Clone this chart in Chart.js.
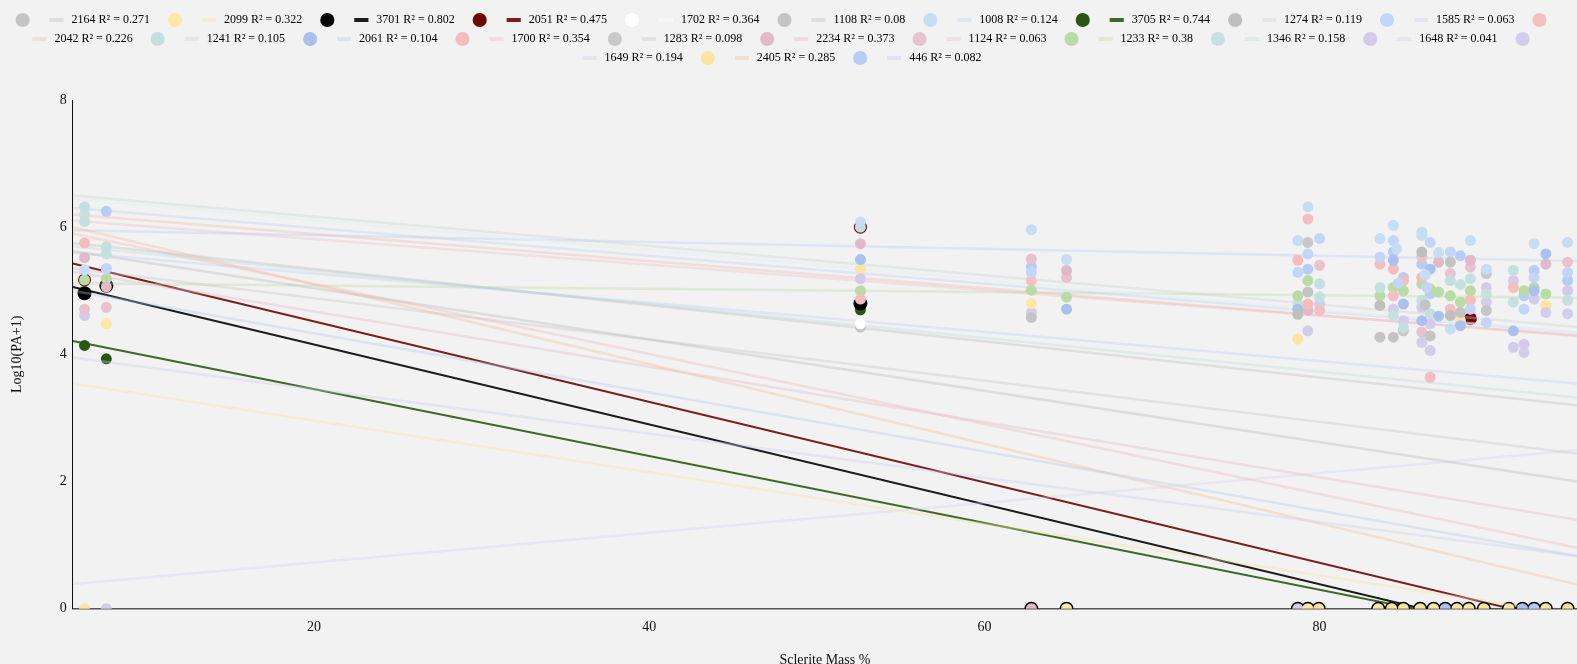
<!DOCTYPE html>
<html>
<head>
<meta charset="UTF-8">
<title>Sclerite Mass % vs Log10(PA+1)</title>
<script src="https://cdn.jsdelivr.net/npm/chart.js"></script>
<style>
  html, body { margin: 0; padding: 0; background: #f2f2f2; overflow: hidden; }
  #wrap { position: relative; width: 1577px; height: 664px; }
  #wrap canvas { display: block; }
</style>
</head>
<body>
<div id="wrap"><canvas id="chart"></canvas></div>
<script>
// groups, in legend order
const ids = ['2164','2099','3701','2051','1702','1108','1008','3705','1274','1585','2042','1241','2061','1700','1283','2234','1124','1233','1346','1648','1649','2405','446'];
const r2 = ['0.271','0.322','0.802','0.475','0.364','0.08','0.124','0.744','0.119','0.063','0.226','0.105','0.104','0.354','0.098','0.373','0.063','0.38','0.158','0.041','0.194','0.285','0.082'];

// fitted lines: value at the left and right end of the x range
const lineX = [5.6, 95.36];
const lineFrom = [5.62, 3.54, 5.06, 5.43, 6.45, 5.75, 6.3, 4.21, 6.5, 5.6, 6.2, 6.45, 5.0, 5.9, 5.35, 5.3, 6.1, 5.12, 5.7, 0.39, 3.95, 6.0, 5.95];
const lineTo = [2.0, -0.1, -0.58, -0.25, 4.34, 3.2, 4.34, -0.51, 4.43, 3.54, 4.29, 4.34, 0.83, 0.96, 2.44, 1.4, 4.3, 4.89, 3.32, 2.49, 0.83, 0.38, 5.47];

// observations [sclerite mass %, log10(PA+1)]
const p2164 = [[62.8,4.58],[79.3,4.98],[83.6,4.27],[87.8,5.45],[89.95,4.69],[86.3,4.78]];
const p2099 = [[7.6,4.48],[62.8,4.8],[64.9,0],[79.3,0],[83.5,0],[85.0,0],[86.8,0],[88.9,0],[91.3,0],[93.5,0]];
const p3701 = [[6.3,4.96],[7.6,5.08],[52.6,4.8],[62.8,0],[64.9,0],[78.7,0],[79.3,0],[79.95,0],[83.5,0],[84.3,0],[85.0,0],[86.0,0],[86.8,0],[87.5,0],[88.2,0],[88.9,0],[89.8,0],[91.3,0],[92.1,0],[92.8,0],[93.5,0],[94.8,0]];
const p2051 = [[6.3,5.17],[52.6,6.0],[89.0,4.56],[86.0,0],[86.8,0],[91.3,0],[93.5,0],[94.8,0]];
const p1702 = [[52.6,4.48]];
const p1108 = [[52.6,4.43],[84.4,4.27],[86.6,4.29],[88.4,4.66]];
const p1008 = [[6.3,5.33],[52.6,6.08],[62.8,5.96],[64.9,5.49],[78.7,5.79],[79.3,6.32],[83.6,5.82],[84.4,6.03],[84.6,5.66],[86.1,5.87],[86.3,5.25],[87.1,5.6],[87.8,4.4],[89.0,5.79],[89.95,5.34],[92.8,5.74],[94.8,5.76]];
const p3705 = [[6.3,4.14],[7.6,3.93],[52.6,4.7],[83.5,0],[85.0,0],[86.0,0],[88.2,0]];
const p1274 = [[78.7,4.63],[83.6,4.77],[86.1,5.61],[87.8,4.61]];
const p1585 = [[7.6,5.35],[62.8,5.29],[78.7,5.29],[79.3,5.58],[80.0,5.82],[83.6,5.53],[84.4,5.79],[84.7,5.12],[86.6,5.76],[86.4,5.05],[87.8,5.61],[89.0,4.71],[89.95,4.5],[92.2,4.71],[92.8,5.21],[94.8,5.29]];
const p2042 = [[62.8,5.16],[79.3,6.13],[80.0,4.69],[83.6,5.42],[84.4,4.92],[86.1,5.53],[87.8,4.71],[91.56,5.05]];
const p1241 = [[6.3,6.32],[6.3,6.09],[7.6,5.69],[52.6,6.0],[80.0,5.11],[83.6,5.05],[85.0,4.42],[86.1,4.85],[87.8,5.16],[89.0,5.19],[91.56,5.32],[94.8,4.85]];
const p2061 = [[52.6,5.49],[64.9,4.71],[78.7,4.71],[84.4,5.48],[85.0,4.79],[86.1,4.53],[86.6,5.34],[87.1,4.6],[88.4,4.45],[91.56,4.37],[92.8,5.0],[93.5,5.58],[87.5,0],[92.1,0]];
const p1700 = [[6.3,5.75],[52.6,4.87],[78.7,5.48],[79.3,4.79],[84.4,5.34],[85.0,5.16],[86.1,5.21],[86.6,3.64],[89.0,4.85]];
const p1283 = [[79.3,5.76],[85.0,4.37],[89.95,5.27]];
const p2234 = [[6.3,5.52],[7.6,5.06],[52.6,5.74],[64.9,5.32],[79.3,4.69],[87.1,5.45],[89.0,5.48],[93.5,5.42],[62.8,0]];
const p1124 = [[6.3,4.71],[7.6,4.74],[62.8,5.5],[64.9,5.21],[80.0,5.4],[86.1,4.35],[87.8,5.27],[89.0,5.37],[94.8,5.45]];
const p1233 = [[6.3,5.17],[7.6,5.19],[52.6,5.0],[62.8,5.01],[64.9,4.9],[78.7,4.92],[79.3,5.16],[83.6,4.92],[84.4,5.05],[85.0,5.0],[86.1,5.11],[86.6,5.03],[87.1,4.98],[87.8,4.92],[88.4,4.82],[89.0,5.0],[92.2,5.0],[92.8,5.05],[93.5,4.95]];
const p1346 = [[6.3,6.2],[7.6,5.58],[78.7,4.79],[80.0,4.9],[84.4,4.61],[86.1,5.92],[86.6,4.64],[88.4,5.1],[89.95,4.95],[91.56,4.82]];
const p1648 = [[6.3,4.61],[52.6,5.19],[80.0,4.79],[84.4,4.71],[86.1,4.74],[86.6,4.48],[89.95,5.05],[91.56,5.16],[92.2,4.16],[92.8,4.87],[94.8,5.0],[78.7,0]];
const p1649 = [[7.6,0],[62.8,4.66],[79.3,4.37],[85.0,4.53],[86.1,4.19],[86.6,4.06],[89.95,4.82],[91.56,4.11],[92.2,4.03],[93.5,4.66],[94.8,4.64]];
const p2405 = [[6.3,0],[52.6,5.34],[78.7,4.24],[88.4,4.53],[93.5,4.77],[79.95,0],[84.3,0],[86.0,0],[88.2,0],[89.8,0],[94.8,0]];
const p446 = [[7.6,6.25],[62.8,5.38],[79.3,5.34],[84.4,5.61],[85.0,5.21],[86.1,5.42],[86.6,4.95],[88.4,5.55],[92.2,4.92],[92.8,5.32],[94.8,5.16],[92.8,0]];

const points = [p2164,p2099,p3701,p2051,p1702,p1108,p1008,p3705,p1274,p1585,p2042,p1241,p2061,p1700,p1283,p2234,p1124,p1233,p1346,p1648,p1649,p2405,p446];

// styling
const dotColor = ['#c4c4c4','#fce7a6','#000000','#6e0707','#ffffff','#c4c4c4','#c6ddf3','#2a5514','#bfbfbf','#c3d5f8','#f4bfbf','#c4dfdf','#a9c1ec','#f4bcbc','#c8c8c8','#e2b9c9','#e8c2ce','#b9dba5','#c6e0df','#d4cbea','#d2cdea','#fde3a0','#b6cdf6'];
const lineColor = ['#b8b8b8','#f8e39a','#1b1b1b','#7a1d1d','#ffffff','#bdbdbd','#b9d3ef','#3c6a27','#c8d2d2','#bcd0f0','#f2b5b5','#bcd9d9','#b3c8ec','#f1b3b3','#c4c4c4','#e2b6c6','#eebcc6','#b9d8a4','#c0dcdc','#cfd3ef','#c8d0ee','#f4b990','#b7cdf4'];
const strong = [2, 3, 7];
const dotRadius = {2: 7, 3: 6.5, 7: 5.5};

Chart.defaults.font.family = "'Liberation Serif', 'Times New Roman', serif";
Chart.defaults.color = '#111';

const datasets = [];
ids.forEach((id, i) => {
  const hi = strong.includes(i);
  datasets.push({
    kind: 'pts',
    label: '',
    data: points[i].map(p => ({x: p[0], y: p[1]})),
    backgroundColor: dotColor[i],
    borderWidth: 0,
    pointRadius: dotRadius[i] || 5.5,
    pointHoverRadius: dotRadius[i] || 5.5,
    order: hi ? 2 + strong.indexOf(i) : 0
  });
  datasets.push({
    kind: 'line',
    label: id + ' R² = ' + r2[i],
    data: [{x: lineX[0], y: lineFrom[i]}, {x: lineX[1], y: lineTo[i]}],
    showLine: true,
    borderColor: hi ? lineColor[i] : lineColor[i] + '5c',
    legendColor: hi ? lineColor[i] : lineColor[i] + '5c',
    borderWidth: hi ? 2 : 2.5,
    pointRadius: 0,
    pointHoverRadius: 0,
    order: hi ? 6 : 1
  });
});

// extra room between the legend and the plot
const legendGap = {
  id: 'legendGap',
  beforeInit(chart) {
    const fit = chart.legend.fit;
    chart.legend.fit = function () { fit.call(this); this.height += 26; };
  }
};

new Chart(document.getElementById('chart'), {
  type: 'scatter',
  data: { datasets },
  plugins: [legendGap],
  options: {
    responsive: true,
    maintainAspectRatio: false,
    animation: false,
    layout: { autoPadding: false, padding: { top: 7, left: 0, right: 0, bottom: 0 } },
    plugins: {
      tooltip: { enabled: false },
      legend: {
        position: 'top',
        labels: {
          usePointStyle: true,
          boxHeight: 10,
          padding: 7,
          color: '#222',
          font: { size: 12 },
          generateLabels(chart) {
            return chart.data.datasets.map((ds, i) => ds.kind === 'pts'
              ? { text: '   ', datasetIndex: i, pointStyle: 'circle', fillStyle: ds.backgroundColor,
                  strokeStyle: ds.backgroundColor, lineWidth: 0, hidden: false }
              : { text: ' ' + ds.label + '    ', datasetIndex: i, pointStyle: 'line', fillStyle: ds.legendColor,
                  strokeStyle: ds.legendColor, lineWidth: 4, hidden: false });
          }
        }
      }
    },
    scales: {
      x: {
        type: 'linear',
        min: 5.6,
        max: 95.36,
        grid: { display: false, drawTicks: false },
        border: { display: true, color: '#555', width: 1.5 },
        ticks: { stepSize: 20, includeBounds: false, padding: 10, color: '#111', font: { size: 14 } },
        title: { display: true, text: 'Sclerite Mass %', color: '#111', font: { size: 14, lineHeight: 0.5 }, padding: { top: 11.5, bottom: 0 } }
      },
      y: {
        min: 0,
        max: 8,
        grid: { display: false, drawTicks: false },
        border: { display: true, color: '#111', width: 1 },
        ticks: { stepSize: 2, includeBounds: false, padding: 6, color: '#111', font: { size: 14 } },
        title: { display: true, text: 'Log10(PA+1)', color: '#111', font: { size: 14 }, padding: { top: 9, bottom: 28 } }
      }
    }
  }
});
</script>
</body>
</html>
